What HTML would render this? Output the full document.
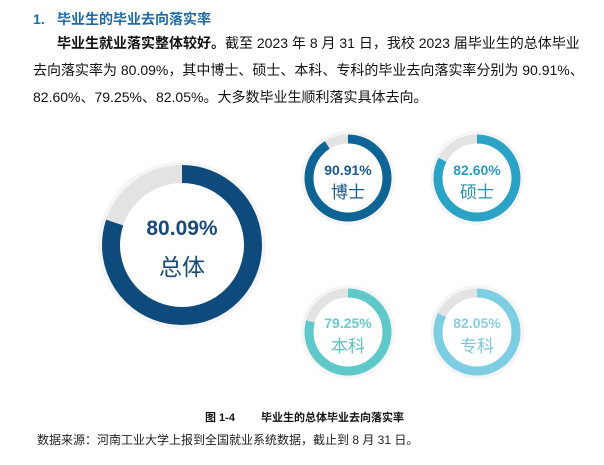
<!DOCTYPE html>
<html><head><meta charset="utf-8"><style>
html,body{margin:0;padding:0;background:#fff;width:604px;height:465px;overflow:hidden}
svg{display:block}
</style></head><body>
<svg width="604" height="465" viewBox="0 0 604 465" xmlns="http://www.w3.org/2000/svg" font-family="Liberation Sans, Noto Sans CJK SC, sans-serif">
<text x="33" y="24" font-size="14" font-weight="bold" fill="#1f6aa5">1.</text>
<text x="57" y="24" font-size="14" font-weight="bold" fill="#1f6aa5">毕业生的毕业去向落实率</text>
<text x="57" y="48" font-size="14" fill="#111"><tspan font-weight="bold">毕业生就业落实整体较好。</tspan>截至 2023 年 8 月 31 日，我校 2023 届毕业生的总体毕业</text>
<text x="33" y="75" font-size="14" fill="#111">去向落实率为 80.09%，其中博士、硕士、本科、专科的毕业去向落实率分别为 90.91%、</text>
<text x="33" y="102" font-size="14" fill="#111">82.60%、79.25%、82.05%。大多数毕业生顺利落实具体去向。</text>

<circle cx="182" cy="245" r="84" fill="#f5f5f5"/>
<circle cx="182" cy="245" r="71" fill="#fff" stroke="#e3e3e3" stroke-width="18"/>
<circle cx="182" cy="245" r="71" fill="none" stroke="#0e4a7c" stroke-width="18" stroke-dasharray="357.3 500" transform="rotate(-90 182 245)"/>
<text x="182" y="235" font-size="21" font-weight="bold" fill="#1a4a78" text-anchor="middle">80.09%</text>
<text x="182" y="275" font-size="23" fill="#1a4a78" text-anchor="middle">总体</text>

<g>
<circle cx="348" cy="178" r="47" fill="#f5f5f5"/>
<circle cx="348" cy="178" r="39" fill="#fff" stroke="#e3e3e3" stroke-width="9"/>
<circle cx="348" cy="178" r="39" fill="none" stroke="#0f6496" stroke-width="9" stroke-dasharray="222.8 300" transform="rotate(-90 348 178)"/>
<text x="348" y="175" font-size="14" font-weight="bold" fill="#1a5a8a" text-anchor="middle">90.91%</text>
<text x="348" y="198" font-size="17" fill="#1a5a8a" text-anchor="middle">博士</text>
</g>
<g>
<circle cx="477" cy="178" r="47" fill="#f5f5f5"/>
<circle cx="477" cy="178" r="39" fill="#fff" stroke="#e3e3e3" stroke-width="9"/>
<circle cx="477" cy="178" r="39" fill="none" stroke="#2aa3c6" stroke-width="9" stroke-dasharray="202.4 300" transform="rotate(-90 477 178)"/>
<text x="477" y="175" font-size="14" font-weight="bold" fill="#2a9cc0" text-anchor="middle">82.60%</text>
<text x="477" y="198" font-size="17" fill="#2a8fb0" text-anchor="middle">硕士</text>
</g>
<g>
<circle cx="348" cy="332" r="47" fill="#f5f5f5"/>
<circle cx="348" cy="332" r="39" fill="#fff" stroke="#e3e3e3" stroke-width="9"/>
<circle cx="348" cy="332" r="39" fill="none" stroke="#5fc9c9" stroke-width="9" stroke-dasharray="194.2 300" transform="rotate(-90 348 332)"/>
<text x="348" y="328" font-size="14" font-weight="bold" fill="#6ccaca" text-anchor="middle">79.25%</text>
<text x="348" y="352" font-size="17" fill="#5fbdbd" text-anchor="middle">本科</text>
</g>
<g>
<circle cx="477" cy="332" r="47" fill="#f5f5f5"/>
<circle cx="477" cy="332" r="39" fill="#fff" stroke="#e3e3e3" stroke-width="9"/>
<circle cx="477" cy="332" r="39" fill="none" stroke="#7dcde3" stroke-width="9" stroke-dasharray="201.1 300" transform="rotate(-90 477 332)"/>
<text x="477" y="328" font-size="14" font-weight="bold" fill="#86cfe3" text-anchor="middle">82.05%</text>
<text x="477" y="352" font-size="17" fill="#7cc6dc" text-anchor="middle">专科</text>
</g>

<text x="205" y="421" font-size="11" font-weight="bold" fill="#111">图 1-4</text>
<text x="261" y="421" font-size="11" font-weight="bold" fill="#111">毕业生的总体毕业去向落实率</text>
<text x="37" y="444" font-size="12" fill="#222">数据来源：河南工业大学上报到全国就业系统数据，截止到 8 月 31 日。</text>
</svg>
</body></html>
